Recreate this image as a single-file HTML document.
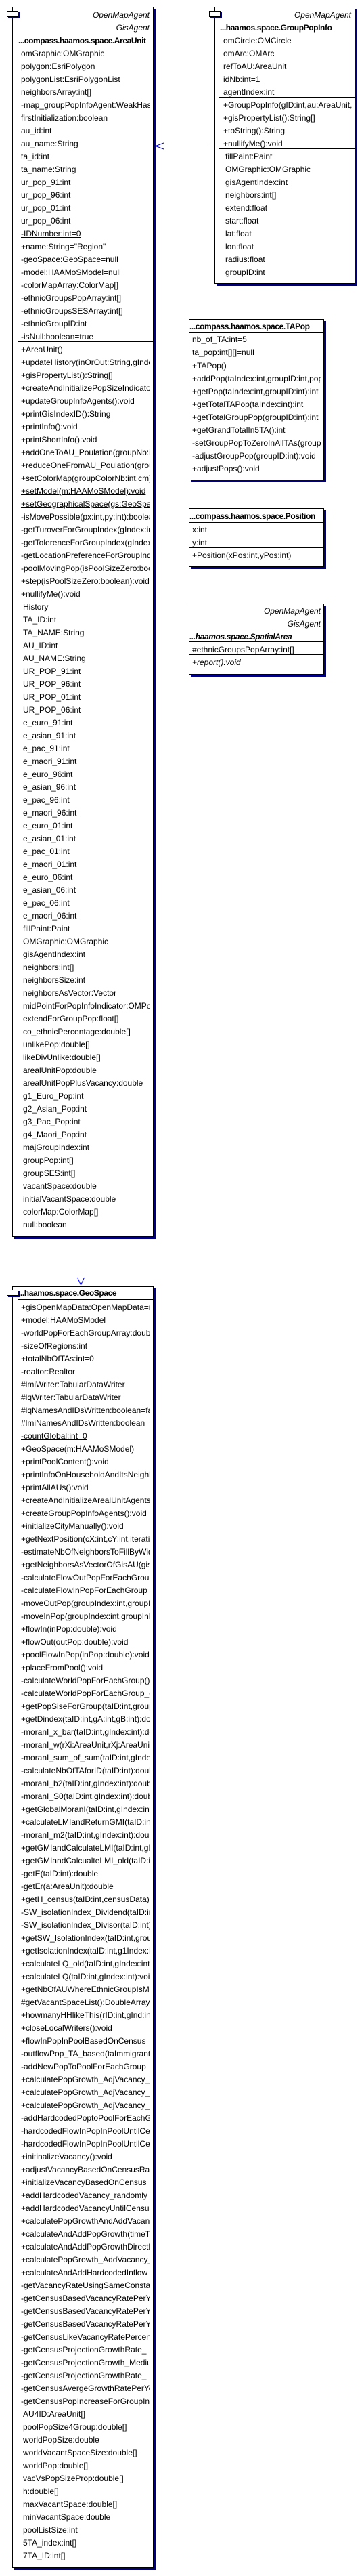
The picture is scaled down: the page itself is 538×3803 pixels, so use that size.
<!DOCTYPE html>
<html><head><meta charset="utf-8"><style>
html,body{margin:0;padding:0;background:#fff;}
body{width:538px;height:3803px;position:relative;overflow:hidden;font-family:"Liberation Sans",Arial,sans-serif;font-size:12px;color:#000;}
.box{position:absolute;box-sizing:border-box;border:1px solid #000;background:#fff;box-shadow:3px 3px 0 #000080;}
.icon{position:absolute;box-sizing:border-box;width:17px;height:9px;border:1px solid #000;background:#fff;box-shadow:2px 2px 0 #000080;}
.hl{position:absolute;height:1px;background:#000;}
.sec{position:absolute;overflow:hidden;white-space:nowrap;}
.sec div{height:19px;line-height:19px;}
.st{position:absolute;height:19px;line-height:19px;font-style:italic;text-align:right;white-space:nowrap;}
.ti{position:absolute;height:19px;line-height:19px;font-weight:bold;letter-spacing:-0.4px;white-space:nowrap;overflow:hidden;}
u{text-decoration:underline;}
</style></head><body>

<!-- AreaUnit -->
<div class="box" style="left:18px;top:10px;width:209px;height:1816px;"></div>
<div class="icon" style="left:10px;top:16px;"></div>
<div class="st" style="left:100px;top:13px;width:121px;">OpenMapAgent</div>
<div class="st" style="left:100px;top:32px;width:121px;">GisAgent</div>
<div class="ti" style="left:27px;top:51px;width:199px;">...compass.haamos.space.AreaUnit</div>
<div class="hl" style="left:26px;top:66px;width:200px;"></div>
<div class="sec" style="left:31px;top:70px;width:191px;">
<div>omGraphic:OMGraphic</div><div>polygon:EsriPolygon</div><div>polygonList:EsriPolygonList</div><div>neighborsArray:int[]</div><div>-map_groupPopInfoAgent:WeakHashMap</div><div>firstInitialization:boolean</div><div>au_id:int</div><div>au_name:String</div><div>ta_id:int</div><div>ta_name:String</div><div>ur_pop_91:int</div><div>ur_pop_96:int</div><div>ur_pop_01:int</div><div>ur_pop_06:int</div><div><u>-IDNumber:int=0</u></div><div>+name:String="Region"</div><div><u>-geoSpace:GeoSpace=null</u></div><div><u>-model:HAAMoSModel=null</u></div><div><u>-colorMapArray:ColorMap[]</u></div><div>-ethnicGroupsPopArray:int[]</div><div>-ethnicGroupsSESArray:int[]</div><div>-ethnicGroupID:int</div><div>-isNull:boolean=true</div>
</div>
<div class="hl" style="left:26px;top:504px;width:200px;"></div>
<div class="sec" style="left:31px;top:507px;width:191px;">
<div>+AreaUnit()</div><div>+updateHistory(inOrOut:String,gIndex:int)</div><div>+gisPropertyList():String[]</div><div>+createAndInitializePopSizeIndicator()</div><div>+updateGroupInfoAgents():void</div><div>+printGisIndexID():String</div><div>+printInfo():void</div><div>+printShortInfo():void</div><div>+addOneToAU_Poulation(groupNb:int)</div><div>+reduceOneFromAU_Poulation(groupNb)</div><div><u>+setColorMap(groupColorNb:int,cm)</u></div><div><u>+setModel(m:HAAMoSModel):void</u></div><div><u>+setGeographicalSpace(gs:GeoSpace)</u></div><div>-isMovePossible(px:int,py:int):boolean</div><div>-getTuroverForGroupIndex(gIndex:int)</div><div>-getTolerenceForGroupIndex(gIndex)</div><div>-getLocationPreferenceForGroupIndex</div><div>-poolMovingPop(isPoolSizeZero:boolean)</div><div>+step(isPoolSizeZero:boolean):void</div><div>+nullifyMe():void</div>
</div>
<div class="hl" style="left:26px;top:884px;width:200px;"></div>
<div class="sec" style="left:34px;top:887px;width:188px;"><div>History</div></div>
<div class="hl" style="left:26px;top:903px;width:200px;"></div>
<div class="sec" style="left:34px;top:906px;width:188px;">
<div>TA_ID:int</div><div>TA_NAME:String</div><div>AU_ID:int</div><div>AU_NAME:String</div><div>UR_POP_91:int</div><div>UR_POP_96:int</div><div>UR_POP_01:int</div><div>UR_POP_06:int</div><div>e_euro_91:int</div><div>e_asian_91:int</div><div>e_pac_91:int</div><div>e_maori_91:int</div><div>e_euro_96:int</div><div>e_asian_96:int</div><div>e_pac_96:int</div><div>e_maori_96:int</div><div>e_euro_01:int</div><div>e_asian_01:int</div><div>e_pac_01:int</div><div>e_maori_01:int</div><div>e_euro_06:int</div><div>e_asian_06:int</div><div>e_pac_06:int</div><div>e_maori_06:int</div><div>fillPaint:Paint</div><div>OMGraphic:OMGraphic</div><div>gisAgentIndex:int</div><div>neighbors:int[]</div><div>neighborsSize:int</div><div>neighborsAsVector:Vector</div><div>midPointForPopInfoIndicator:OMPoint</div><div>extendForGroupPop:float[]</div><div>co_ethnicPercentage:double[]</div><div>unlikePop:double[]</div><div>likeDivUnlike:double[]</div><div>arealUnitPop:double</div><div>arealUnitPopPlusVacancy:double</div><div>g1_Euro_Pop:int</div><div>g2_Asian_Pop:int</div><div>g3_Pac_Pop:int</div><div>g4_Maori_Pop:int</div><div>majGroupIndex:int</div><div>groupPop:int[]</div><div>groupSES:int[]</div><div>vacantSpace:double</div><div>initialVacantSpace:double</div><div>colorMap:ColorMap[]</div><div>null:boolean</div>
</div>

<!-- GroupPopInfo -->
<div class="box" style="left:317px;top:10px;width:208px;height:409px;"></div>
<div class="icon" style="left:309px;top:16px;"></div>
<div class="st" style="left:380px;top:13px;width:139px;">OpenMapAgent</div>
<div class="ti" style="left:325px;top:32px;width:199px;">...haamos.space.GroupPopInfo</div>
<div class="hl" style="left:324px;top:48px;width:200px;"></div>
<div class="sec" style="left:330px;top:51px;width:190px;">
<div>omCircle:OMCircle</div><div>omArc:OMArc</div><div>refToAU:AreaUnit</div><div><u>idNb:int=1</u></div><div>agentIndex:int</div>
</div>
<div class="hl" style="left:324px;top:143px;width:200px;"></div>
<div class="sec" style="left:330px;top:146px;width:190px;">
<div>+GroupPopInfo(gID:int,au:AreaUnit,</div><div>+gisPropertyList():String[]</div><div>+toString():String</div><div>+nullifyMe():void</div>
</div>
<div class="hl" style="left:324px;top:219px;width:200px;"></div>
<div class="sec" style="left:333px;top:222px;width:187px;">
<div>fillPaint:Paint</div><div>OMGraphic:OMGraphic</div><div>gisAgentIndex:int</div><div>neighbors:int[]</div><div>extend:float</div><div>start:float</div><div>lat:float</div><div>lon:float</div><div>radius:float</div><div>groupID:int</div>
</div>

<!-- TAPop -->
<div class="box" style="left:279px;top:471px;width:200px;height:238px;"></div>
<div class="ti" style="left:280px;top:473px;width:197px;">...compass.haamos.space.TAPop</div>
<div class="hl" style="left:279px;top:490px;width:199px;"></div>
<div class="sec" style="left:284px;top:492px;width:190px;">
<div>nb_of_TA:int=5</div><div>ta_pop:int[][]=null</div>
</div>
<div class="hl" style="left:279px;top:528px;width:199px;"></div>
<div class="sec" style="left:284px;top:531px;width:190px;">
<div>+TAPop()</div><div>+addPop(taIndex:int,groupID:int,pop:int)</div><div>+getPop(taIndex:int,groupID:int):int</div><div>+getTotalTAPop(taIndex:int):int</div><div>+getTotalGroupPop(groupID:int):int</div><div>+getGrandTotalIn5TA():int</div><div>-setGroupPopToZeroInAllTAs(groupID)</div><div>-adjustGroupPop(groupID:int):void</div><div>+adjustPops():void</div>
</div>

<!-- Position -->
<div class="box" style="left:279px;top:750px;width:200px;height:87px;"></div>
<div class="ti" style="left:280px;top:753px;width:197px;">...compass.haamos.space.Position</div>
<div class="hl" style="left:279px;top:771px;width:199px;"></div>
<div class="sec" style="left:284px;top:773px;width:190px;">
<div>x:int</div><div>y:int</div>
</div>
<div class="hl" style="left:279px;top:808px;width:199px;"></div>
<div class="sec" style="left:284px;top:811px;width:190px;"><div>+Position(xPos:int,yPos:int)</div></div>

<!-- SpatialArea -->
<div class="box" style="left:279px;top:891px;width:200px;height:105px;"></div>
<div class="st" style="left:330px;top:893px;width:144px;">OpenMapAgent</div>
<div class="st" style="left:330px;top:912px;width:144px;">GisAgent</div>
<div class="ti" style="left:280px;top:931px;width:197px;font-style:italic;">...haamos.space.SpatialArea</div>
<div class="hl" style="left:279px;top:947px;width:199px;"></div>
<div class="sec" style="left:284px;top:950px;width:190px;"><div>#ethnicGroupsPopArray:int[]</div></div>
<div class="hl" style="left:279px;top:966px;width:199px;"></div>
<div class="sec" style="left:284px;top:969px;width:190px;font-style:italic;"><div>+report():void</div></div>

<!-- GeoSpace -->
<div class="box" style="left:18px;top:1899px;width:209px;height:1892px;"></div>
<div class="icon" style="left:10px;top:1904px;"></div>
<div class="ti" style="left:27px;top:1900px;width:199px;">...haamos.space.GeoSpace</div>
<div class="hl" style="left:26px;top:1918px;width:200px;"></div>
<div class="sec" style="left:31px;top:1921px;width:191px;">
<div>+gisOpenMapData:OpenMapData=null</div><div>+model:HAAMoSModel</div><div>-worldPopForEachGroupArray:double[]</div><div>-sizeOfRegions:int</div><div>+totalNbOfTAs:int=0</div><div>-realtor:Realtor</div><div>#lmiWriter:TabularDataWriter</div><div>#lqWriter:TabularDataWriter</div><div>#lqNamesAndIDsWritten:boolean=false</div><div>#lmiNamesAndIDsWritten:boolean=false</div><div><u>-countGlobal:int=0</u></div>
</div>
<div class="hl" style="left:26px;top:2127px;width:200px;"></div>
<div class="sec" style="left:31px;top:2130px;width:191px;">
<div>+GeoSpace(m:HAAMoSModel)</div><div>+printPoolContent():void</div><div>+printInfoOnHouseholdAndItsNeighbors</div><div>+printAllAUs():void</div><div>+createAndInitializeArealUnitAgents</div><div>+createGroupPopInfoAgents():void</div><div>+initializeCityManually():void</div><div>+getNextPosition(cX:int,cY:int,iteration)</div><div>-estimateNbOfNeighborsToFillByWidth</div><div>+getNeighborsAsVectorOfGisAU(gisAU)</div><div>-calculateFlowOutPopForEachGroup</div><div>-calculateFlowInPopForEachGroup</div><div>-moveOutPop(groupIndex:int,groupPop)</div><div>-moveInPop(groupIndex:int,groupInPop)</div><div>+flowIn(inPop:double):void</div><div>+flowOut(outPop:double):void</div><div>+poolFlowInPop(inPop:double):void</div><div>+placeFromPool():void</div>
<div>-calculateWorldPopForEachGroup()</div><div>-calculateWorldPopForEachGroup_old</div><div>+getPopSiseForGroup(taID:int,group)</div><div>+getDindex(taID:int,gA:int,gB:int):double</div><div>-moranI_x_bar(taID:int,gIndex:int):double</div><div>-moranI_w(rXi:AreaUnit,rXj:AreaUnit)</div><div>-moranI_sum_of_sum(taID:int,gIndex)</div><div>-calculateNbOfTAforID(taID:int):double</div><div>-moranI_b2(taID:int,gIndex:int):double</div><div>-moranI_S0(taID:int,gIndex:int):double</div><div>+getGlobalMoranI(taID:int,gIndex:int)</div><div>+calculateLMIandReturnGMI(taID:int)</div><div>-moranI_m2(taID:int,gIndex:int):double</div><div>+getGMIandCalculateLMI(taID:int,gIndex)</div><div>+getGMIandCalcualteLMI_old(taID:int)</div><div>-getE(taID:int):double</div><div>-getEr(a:AreaUnit):double</div><div>+getH_census(taID:int,censusData)</div><div>-SW_isolationIndex_Dividend(taID:int)</div><div>-SW_isolationIndex_Divisor(taID:int)</div><div>+getSW_IsolationIndex(taID:int,group)</div><div>+getIsolationIndex(taID:int,g1Index:int)</div><div>+calculateLQ_old(taID:int,gIndex:int)</div><div>+calculateLQ(taID:int,gIndex:int):void</div><div>+getNbOfAUWhereEthnicGroupIsMajority</div><div>#getVacantSpaceList():DoubleArrayList</div><div>+howmanyHHlikeThis(rID:int,gInd:int)</div><div>+closeLocalWriters():void</div><div>+flowInPopInPoolBasedOnCensus</div><div>-outflowPop_TA_based(taImmigrants)</div><div>-addNewPopToPoolForEachGroup</div><div>+calculatePopGrowth_AdjVacancy_a</div><div>+calculatePopGrowth_AdjVacancy_b</div><div>+calculatePopGrowth_AdjVacancy_c</div><div>-addHardcodedPoptoPoolForEachGroup</div>
<div>-hardcodedFlowInPopInPoolUntilCensus</div><div>-hardcodedFlowInPopInPoolUntilCensus</div><div>+initinalizeVacancy():void</div><div>+adjustVacancyBasedOnCensusRate</div><div>+initializeVacancyBasedOnCensus</div><div>+addHardcodedVacancy_randomly</div><div>+addHardcodedVacancyUntilCensus</div><div>+calculatePopGrowthAndAddVacancy</div><div>+calculateAndAddPopGrowth(timeTick)</div><div>+calculateAndAddPopGrowthDirectly</div><div>+calculatePopGrowth_AddVacancy_</div><div>+calculateAndAddHardcodedInflow</div><div>-getVacancyRateUsingSameConstant</div><div>-getCensusBasedVacancyRatePerYear</div><div>-getCensusBasedVacancyRatePerYear</div><div>-getCensusBasedVacancyRatePerYear</div><div>-getCensusLikeVacancyRatePercent</div><div>-getCensusProjectionGrowthRate_</div><div>-getCensusProjectionGrowth_Medium</div><div>-getCensusProjectionGrowthRate_</div><div>-getCensusAvergeGrowthRatePerYear</div><div>-getCensusPopIncreaseForGroupIndex</div>
</div>
<div class="hl" style="left:26px;top:3553px;width:200px;"></div>
<div class="sec" style="left:34px;top:3555px;width:188px;">
<div>AU4ID:AreaUnit[]</div><div>poolPopSize4Group:double[]</div><div>worldPopSize:double</div><div>worldVacantSpaceSize:double[]</div><div>worldPop:double[]</div><div>vacVsPopSizeProp:double[]</div><div>h:double[]</div><div>maxVacantSpace:double[]</div><div>minVacantSpace:double</div><div>poolListSize:int</div><div>5TA_index:int[]</div><div>7TA_ID:int[]</div>
</div>

<!-- connectors -->
<svg style="position:absolute;left:0;top:0;" width="538" height="3803">
<g stroke="#0000ff" stroke-width="1" fill="none">
<line x1="230" y1="215.5" x2="310" y2="215.5"/>
<polyline points="242,211 230,215.5 242,220"/>
<line x1="119.5" y1="1829" x2="119.5" y2="1897"/>
<polyline points="114.5,1886 119.5,1897 124.5,1886"/>
</g>
</svg>
</body></html>
